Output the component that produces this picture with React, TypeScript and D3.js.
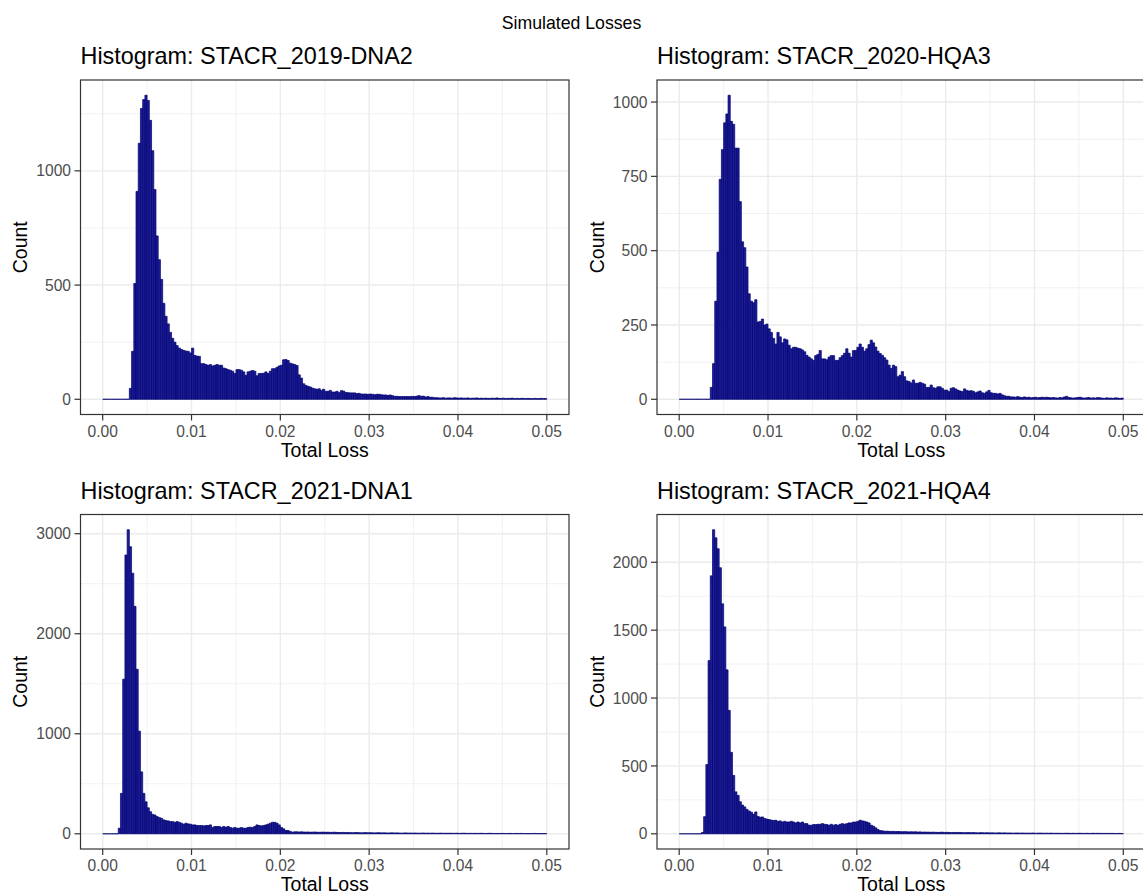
import * as d3 from 'd3'

// histogram bins: 200 bins of width 0.00025 from 0 to 0.05
const binWidth = 0.00025
const xTicks = [0, 0.01, 0.02, 0.03, 0.04, 0.05]
const xMinorTicks = [0.005, 0.015, 0.025, 0.035, 0.045]

const countsDNA2_2019 = [
  0, 0, 0, 0, 0, 0, 0, 0, 0, 0, 0, 0,
  48, 210, 507, 910, 1121, 1273, 1312, 1331, 1308, 1221,
  1088, 918, 715, 611, 525, 420, 363, 330, 293, 267,
  250, 235, 224, 218, 214, 211, 210, 203, 224, 192,
  189, 188, 156, 156, 152, 149, 152, 146, 149, 152,
  149, 149, 137, 134, 130, 127, 123, 113, 130, 130,
  127, 120, 105, 120, 123, 126, 123, 103, 113, 113,
  114, 120, 113, 123, 134, 134, 140, 146, 149, 173,
  174, 170, 158, 155, 152, 148, 107, 93, 68, 61,
  57, 54, 49, 46, 44, 46, 39, 44, 35, 35,
  39, 32, 32, 35, 29, 38, 36, 30, 29, 28,
  28, 28, 25, 26, 23, 23, 23, 22, 23, 22,
  20, 22, 22, 20, 19, 19, 17, 19, 16, 13,
  13, 12, 12, 12, 12, 12, 12, 13, 12, 14,
  16, 13, 14, 10, 12, 9, 9, 7,
  7, 6, 6, 7, 5, 6, 6, 5, 7, 6,
  5, 6, 5, 5, 6, 4, 5, 5, 6, 4,
  5, 4, 5, 4, 4, 5, 4, 6, 4, 4,
  5, 3, 4, 4, 5, 3, 4, 3, 4, 4,
  3, 4, 3, 3, 4, 3, 3, 4, 3, 3,
]

const countsHQA3_2020 = [
  0, 0, 0, 0, 0, 0, 0, 0, 0, 0, 0, 0, 0, 0,
  40, 120, 330, 495, 740, 840, 930, 960, 1023, 935,
  925, 845, 845, 665, 530, 510, 445, 355, 330, 325,
  335, 260, 262, 270, 250, 253, 237, 225, 205, 186,
  225, 210, 190, 203, 200, 182, 170, 175, 175, 172,
  170, 166, 160, 148, 142, 136, 131, 147, 151, 164,
  136, 136, 133, 142, 147, 147, 131, 131, 140, 147,
  155, 170, 155, 142, 164, 164, 175, 186, 175, 162,
  170, 184, 199, 190, 176, 162, 154, 148, 140, 132,
  115, 104, 115, 110, 76, 81, 93, 76, 62, 60,
  55, 65, 54, 54, 57, 54, 51, 40, 40, 48,
  39, 37, 42, 42, 37, 31, 31, 26, 37, 39,
  35, 31, 28, 26, 35, 30, 28, 29, 27, 22,
  25, 28, 22, 20, 25, 30, 22, 20, 20, 18,
  20, 15, 12, 10, 10, 8,
  8, 7, 9, 7, 6, 8, 6, 7, 5, 6,
  7, 5, 6, 7, 6, 7, 6, 5, 6, 5,
  4, 6, 5, 8, 10, 6, 5, 4, 5, 6,
  7, 5, 4, 5, 6, 4, 5, 4, 6, 5,
  4, 3, 5, 4, 4, 3, 5, 4, 3, 4,
]

const countsDNA1_2021 = [
  0, 0, 0, 0, 0, 0, 0,
  56, 404, 1546, 2787, 3040, 2870, 2605, 2274, 1645, 1026,
  619, 404, 320, 260, 221, 195, 188, 172, 162, 155,
  139, 132, 129, 122, 122, 115, 122, 115, 106, 96,
  106, 99, 96, 89, 89, 83, 83, 83, 79, 83,
  83, 89, 63, 73, 73, 73, 63, 73, 66, 73,
  63, 56, 63, 56, 56, 63, 56, 56, 63, 66,
  63, 73, 89, 83, 79, 83, 89, 96, 106, 115,
  115, 106, 89, 63, 50, 33, 33, 23, 16, 20,
  20, 18, 20, 18, 17, 18, 16, 17, 18, 16,
  15, 16, 17, 15, 16, 14, 15, 16, 14, 13,
  13, 14, 12, 13, 12, 11, 12, 13, 11, 10, 11, 12, 10, 11, 10, 9, 10, 11, 9, 10,
  9, 8, 9, 10, 8, 9, 8, 7, 8, 9, 7, 8, 7, 8, 7, 6, 7, 8, 6, 7,
  6, 7, 6, 5, 6, 7, 5, 6, 5, 6, 5, 5, 6, 4, 5, 6, 5, 4, 5, 4,
  5, 4, 4, 5, 4, 3, 4, 5, 4, 3, 4, 3, 4, 4, 3, 3, 4, 3, 3, 4,
  3, 4, 3, 3, 2, 3, 3, 4, 3, 2, 3, 3, 2,
]

const countsHQA4_2021 = [
  0, 0, 0, 0, 0, 0, 0, 0, 0, 0,
  10, 126, 510, 1276, 1900, 2240, 2180, 2100, 1960, 1694,
  1524, 1208, 909, 600, 430, 309, 283, 236, 212, 198,
  180, 168, 159, 145, 161, 128, 122, 124, 113, 108,
  105, 101, 98, 100, 92, 95, 87, 92, 87, 87,
  92, 87, 80, 87, 80, 87, 75, 75, 63, 63,
  68, 68, 70, 70, 75, 70, 68, 63, 70, 63,
  68, 63, 70, 75, 70, 75, 80, 80, 87, 87,
  92, 100, 95, 92, 87, 80, 63, 56, 44, 32,
  24, 22, 19, 19, 18, 17, 18, 16, 17, 16,
  15, 16, 15, 14, 15, 14, 15,
  13, 14, 12, 13, 12, 12, 11, 12, 11, 10, 11, 12, 10, 11, 10, 9, 10, 10, 9, 10,
  9, 8, 9, 9, 8, 9, 8, 7, 8, 8, 7, 8, 7, 7, 7, 6, 7, 7, 6, 7,
  6, 6, 6, 5, 6, 6, 5, 6, 5, 5, 5, 5, 6, 4, 5, 5, 5, 4, 5, 4,
  5, 4, 4, 4, 4, 3, 4, 4, 4, 3, 4, 3, 4, 4, 3, 3, 4, 3, 3, 4,
  3, 4, 3, 3, 3, 3, 3, 3, 3, 2, 3, 3, 2,
]

const titles = [
  'Histogram: STACR_2019-DNA2',
  'Histogram: STACR_2020-HQA3',
  'Histogram: STACR_2021-DNA1',
  'Histogram: STACR_2021-HQA4',
]
const seriesCounts = [countsDNA2_2019, countsHQA3_2020, countsDNA1_2021, countsHQA4_2021]
const yMajorTicks = [
  [0, 500, 1000],
  [0, 250, 500, 750, 1000],
  [0, 1000, 2000, 3000],
  [0, 500, 1000, 1500, 2000],
]
const yMinorTicks = [
  [250, 750, 1250],
  [125, 375, 625, 875],
  [500, 1500, 2500],
  [250, 750, 1250, 1750],
]

// panel placement (left/top of the framed plotting area)
const layout = [
  { left: 80.5, top: 80 },
  { left: 657, top: 80 },
  { left: 80.5, top: 514.5 },
  { left: 657, top: 514.5 },
]

const W = 1143
const H = 894
const PW = 488.5
const PH = 334.5
const FONT = '"Liberation Sans", Arial, Helvetica, sans-serif'
const GRID = '#EBEBEB'
const DARK = '#333333'

function Panel({ idx }: { idx: number }) {
  const { left, top } = layout[idx]
  const counts = seriesCounts[idx]
  const maxC = d3.max(counts) as number
  const x = d3.scaleLinear().domain([-0.0025, 0.0525]).range([left, left + PW])
  const y = d3.scaleLinear().domain([-0.05 * maxC, 1.05 * maxC]).range([top + PH, top])
  const fmt = d3.format('.2f')

  return (
    <g>
      <rect x={left} y={top} width={PW} height={PH} fill="#fff" />
      {/* minor grid */}
      {xMinorTicks.map(t => (
        <line key={'xm' + t} x1={x(t)} x2={x(t)} y1={top} y2={top + PH} stroke={GRID} strokeWidth={0.7} />
      ))}
      {yMinorTicks[idx].map(t => (
        <line key={'ym' + t} x1={left} x2={left + PW} y1={y(t)} y2={y(t)} stroke={GRID} strokeWidth={0.7} />
      ))}
      {/* major grid */}
      {xTicks.map(t => (
        <line key={'xg' + t} x1={x(t)} x2={x(t)} y1={top} y2={top + PH} stroke={GRID} strokeWidth={1.4} />
      ))}
      {yMajorTicks[idx].map(t => (
        <line key={'yg' + t} x1={left} x2={left + PW} y1={y(t)} y2={y(t)} stroke={GRID} strokeWidth={1.4} />
      ))}
      {/* bars */}
      {counts.map((c, i) => {
        const x0 = x(i * binWidth)
        const x1 = x((i + 1) * binWidth)
        const y0 = y(0)
        const y1 = y(c)
        return (
          <path
            key={i}
            d={`M${x0},${y0}H${x1}V${y1}H${x0}Z`}
            fill="#1c1c96"
            stroke="#00006e"
            strokeWidth={0.7}
          />
        )
      })}
      {/* frame */}
      <rect x={left} y={top} width={PW} height={PH} fill="none" stroke={DARK} strokeWidth={1.2} />
      {/* y axis */}
      {yMajorTicks[idx].map(t => (
        <g key={'yt' + t}>
          <line x1={left - 6} x2={left} y1={y(t)} y2={y(t)} stroke={DARK} strokeWidth={1.2} />
          <text x={left - 9.5} y={y(t)} dy="0.36em" textAnchor="end" fontSize={15.6} fill="#4D4D4D">
            {t}
          </text>
        </g>
      ))}
      {/* x axis */}
      {xTicks.map(t => (
        <g key={'xt' + t}>
          <line x1={x(t)} x2={x(t)} y1={top + PH} y2={top + PH + 6} stroke={DARK} strokeWidth={1.2} />
          <text x={x(t)} y={top + PH + 22.2} textAnchor="middle" fontSize={15.6} fill="#4D4D4D">
            {fmt(t)}
          </text>
        </g>
      ))}
      <text x={left + PW / 2} y={top + PH + 42} textAnchor="middle" fontSize={19.5} fill="#000">
        Total Loss
      </text>
      <text
        transform={`translate(${left - 53.5},${top + PH / 2}) rotate(-90)`}
        textAnchor="middle"
        fontSize={19.5}
        fill="#000"
      >
        Count
      </text>
      <text x={left} y={top - 15.7} fontSize={23.4} fill="#000">
        {titles[idx]}
      </text>
    </g>
  )
}

export default function App() {
  return (
    <svg
      width={W}
      height={H}
      style={{ position: 'absolute', left: 0, top: 0, background: '#fff' }}
      fontFamily={FONT}
    >
      <rect width={W} height={H} fill="#fff" />
      <text x={W / 2} y={28.5} textAnchor="middle" fontSize={17.7} fill="#000">
        Simulated Losses
      </text>
      {titles.map((_, i) => (
        <Panel key={i} idx={i} />
      ))}
    </svg>
  )
}
